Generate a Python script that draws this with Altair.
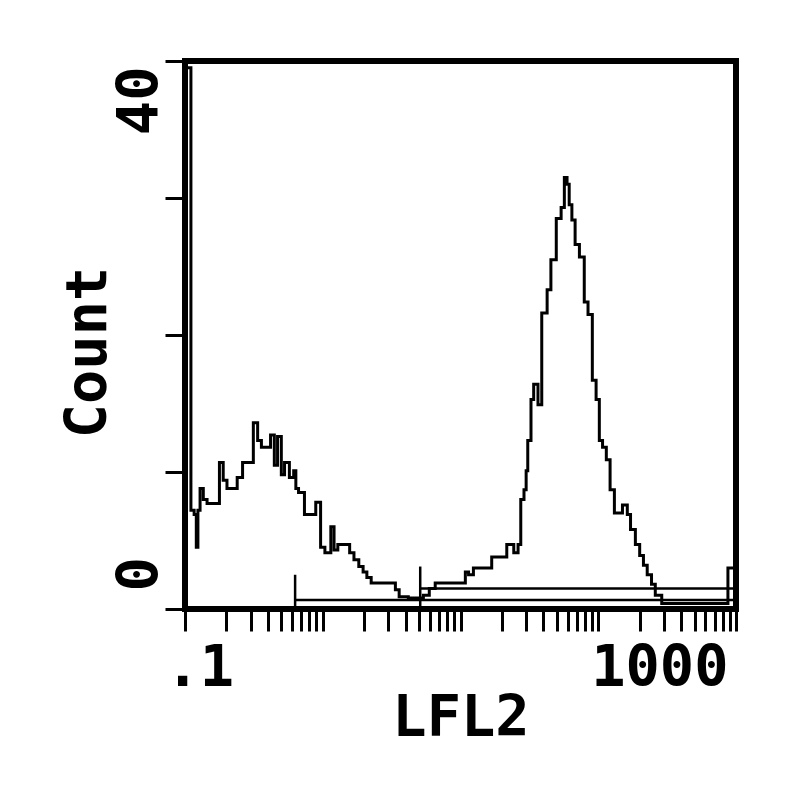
import altair as alt
import pandas as pd

# Histogram: log-amplifier channel (0..1023 over 4 decades) and count
channel = [0, 11, 17, 21, 24, 28, 34, 41, 64, 71, 78, 97, 107, 127, 135, 142, 159, 166, 172, 179,
           185, 194, 202, 206, 211, 222, 243, 252, 260, 271, 277, 284, 306, 314, 323, 331, 338, 346, 391, 398,
           415, 443, 454, 465, 521, 527, 536, 570, 598, 611, 619, 624, 630, 634, 637, 643, 648, 656, 663, 673,
           680, 690, 699, 705, 710, 714, 719, 725, 733, 742, 749, 757, 764, 770, 776, 783, 790, 798, 813, 822,
           828, 837, 845, 852, 859, 867, 874, 886, 1009, 1023]
count = [39.5, 7.2, 6.9, 4.5, 7.2, 8.8, 8.0, 7.7, 10.7, 9.4, 8.8, 9.6, 10.7, 13.6, 12.3, 11.8, 12.7, 10.5, 12.6, 9.8,
         10.7, 9.6, 10.1, 8.8, 8.5, 6.9, 7.8, 4.5, 4.1, 6.0, 4.3, 4.7, 4.1, 3.6, 3.1, 2.7, 2.3, 1.9, 1.4, 0.9,
         0.8, 1.0, 1.5, 1.9, 2.7, 2.5, 3.0, 3.8, 4.7, 4.1, 4.7, 8.0, 8.7, 10.1, 12.3, 15.3, 16.4, 14.9, 21.6, 23.3,
         25.5, 28.5, 29.3, 31.5, 31.0, 29.5, 28.4, 26.6, 25.7, 22.4, 21.5, 16.7, 15.3, 12.3, 11.8, 10.9, 8.7, 7.0, 7.6, 6.9,
         5.8, 4.7, 3.9, 3.2, 2.5, 1.8, 1.0, 0.4, 3.0, 3.0]

# Marker (gate) bars
marker_start = [0.63, 5.1]
marker_end = [1000, 1000]
marker_level = [0.66, 1.5]
marker_top = [2.5, 3.1]

x_ticks = [0.1, 0.2, 0.3, 0.4, 0.5, 0.6, 0.7, 0.8, 0.9,
           1, 2, 3, 4, 5, 6, 7, 8, 9,
           10, 20, 30, 40, 50, 60, 70, 80, 90,
           100, 200, 300, 400, 500, 600, 700, 800, 900, 1000]
y_ticks = [0, 10, 20, 30, 40]

hist = pd.DataFrame({"LFL2": [0.1 * 10 ** (c / 256) for c in channel], "Count": count})
markers = pd.DataFrame({"start": marker_start, "end": marker_end, "level": marker_level,
                        "top": marker_top, "base": [0] * len(marker_start)})

FONT = "DejaVu Sans Mono"
FS = 57

xscale = alt.Scale(type="log", domain=[0.1, 1000], nice=False)
yscale = alt.Scale(domain=[0, 40], nice=False, zero=False)

xaxis = alt.Axis(
    values=x_ticks, title="LFL2", domain=False, grid=False,
    tickSize=22, tickWidth=3, tickColor="black",
    labelExpr="datum.value == 0.1 ? '.1' : (datum.value == 1000 ? '1000' : '')",
    labelAlign={"condition": {"test": "datum.value < 1", "value": "left"}, "value": "right"},
    labelOffset={"condition": {"test": "datum.value < 1", "value": -20}, "value": -8},
    labelBaseline="alphabetic", labelPadding=54, labelFontSize=FS, labelFont=FONT,
    labelFontWeight="bold", labelColor="black", labelOverlap=False, labelFlush=False,
    titleFont=FONT, titleFontSize=FS, titleFontWeight="bold", titleColor="black",
    titleBaseline="alphabetic", titleY=126,
)
yaxis = alt.Axis(
    values=y_ticks, title="Count", domain=False, grid=False,
    tickSize=20, tickWidth=3, tickColor="black",
    labelExpr="(datum.value == 0 || datum.value == 40) ? datum.label : ''",
    labelAngle=270,
    labelAlign={"condition": {"test": "datum.value < 20", "value": "left"}, "value": "right"},
    labelOffset={"condition": {"test": "datum.value < 20", "value": -18}, "value": 5},
    labelBaseline="alphabetic", labelPadding=8, labelFontSize=FS, labelFont=FONT,
    labelFontWeight="bold", labelColor="black", labelOverlap=False, labelFlush=False,
    titleFont=FONT, titleFontSize=FS, titleFontWeight="bold", titleColor="black",
    titleAngle=270, titleX=-80, titleY=291, titleBaseline="alphabetic", titleAlign="center",
)

line = alt.Chart(hist).mark_line(
    interpolate="step-after", color="black", strokeWidth=3, clip=True, strokeJoin="miter"
).encode(
    x=alt.X("LFL2:Q", scale=xscale, axis=xaxis),
    y=alt.Y("Count:Q", scale=yscale, axis=yaxis),
)

hbars = alt.Chart(markers).mark_rule(color="black", strokeWidth=2.5, clip=True).encode(
    x=alt.X("start:Q", scale=xscale, axis=xaxis),
    x2="end:Q",
    y=alt.Y("level:Q", scale=yscale, axis=yaxis),
)
vbars = alt.Chart(markers).mark_rule(color="black", strokeWidth=2.5, clip=True).encode(
    x=alt.X("start:Q", scale=xscale, axis=xaxis),
    y=alt.Y("base:Q", scale=yscale, axis=yaxis),
    y2="top:Q",
)

chart = alt.layer(line, hbars, vbars).properties(
    width=551, height=548,
    autosize=alt.AutoSizeParams(type="none"),
    padding={"left": 177, "top": 53, "right": 40, "bottom": 170},
    background="white",
).configure_view(stroke="black", strokeWidth=6)

chart.save("out.html", embed_options={"renderer": "svg", "actions": False})
